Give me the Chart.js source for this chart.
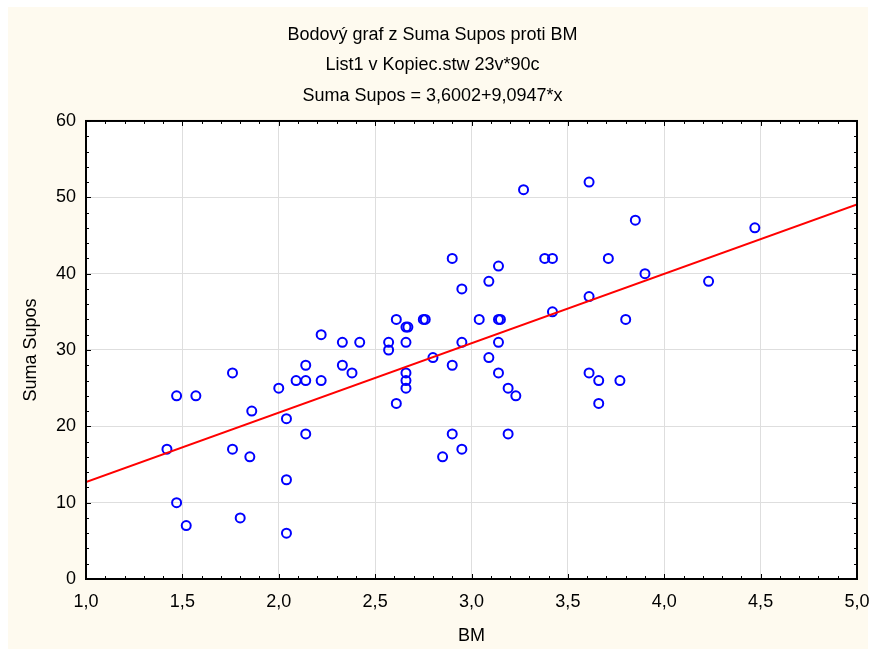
<!DOCTYPE html>
<html>
<head>
<meta charset="utf-8">
<title>Bodový graf z Suma Supos proti BM</title>
<script src="https://cdn.jsdelivr.net/npm/chart.js@4"></script>
<style>
  html, body { margin: 0; padding: 0; background: #ffffff; }
  canvas { display: block; }
</style>
</head>
<body>
<canvas id="graf" width="873" height="649"></canvas>
<script>
const bm = [
    1.42, 1.47, 1.47, 1.52, 1.57, 1.76, 1.76, 1.80, 1.86, 1.85,
    2.00, 2.04, 2.04, 2.04, 2.09, 2.14, 2.14, 2.14, 2.22, 2.22,
    2.33, 2.33, 2.38, 2.42, 3.27, 3.61, 3.85, 2.90, 3.38, 3.42,
    3.71, 3.14, 3.09, 2.95, 3.90, 3.61, 3.42, 2.61, 2.66, 2.67,
    2.75, 2.76, 3.04, 3.14, 3.15, 3.80, 2.57, 2.66, 2.95, 3.14,
    2.57, 4.47, 4.23, 2.80, 2.90, 3.09, 2.66, 2.66, 2.66, 2.61,
    3.14, 3.19, 3.23, 3.61, 3.66, 3.77, 3.66, 2.90, 3.19, 2.95,
    2.85,
];
const sumaSupos = [
    17, 24, 10, 7, 24, 27, 17, 8, 22, 16,
    25, 21, 13, 6, 26, 26, 28, 19, 32, 26,
    31, 28, 27, 31, 51, 52, 47, 42, 42, 42,
    42, 41, 39, 38, 40, 37, 35, 34, 33, 33,
    34, 34, 34, 34, 34, 34, 31, 31, 31, 31,
    30, 46, 39, 29, 28, 29, 27, 26, 25, 23,
    27, 25, 24, 27, 26, 26, 23, 19, 19, 17,
    16,
];

// regresní přímka: Suma Supos = 3,6002 + 9,0947 * x
const absolutniClen = 3.6002;
const smernice = 9.0947;
const rozsahX = [1, 5];

const nadpis = [
    'Bodový graf z Suma Supos proti BM',
    'List1 v Kopiec.stw 23v*90c',
    'Suma Supos = 3,6002+9,0947*x',
];

const pismo = { family: '"Liberation Sans", Arial, sans-serif', size: 18 };

const cara = rozsahX.map((x) => ({ x, y: absolutniClen + smernice * x }));

// pozadí, rámeček a krátké značky dovnitř grafu
const ramecek = {
    id: 'ramecek',
    beforeDraw(chart) {
        const { ctx, chartArea: a } = chart;
        ctx.save();
        ctx.fillStyle = '#fefaef';
        ctx.fillRect(8, 7, chart.width - 13, chart.height - 7);
        ctx.fillStyle = '#ffffff';
        ctx.fillRect(a.left, a.top, a.right - a.left, a.bottom - a.top);
        ctx.restore();
    },
    afterDraw(chart) {
        const { ctx, chartArea: a, scales } = chart;
        ctx.save();
        ctx.strokeStyle = '#000000';
        ctx.lineWidth = 1;
        ctx.beginPath();
        for (let i = 10; i <= 50; i++) {
            const px = Math.round(scales.x.getPixelForValue(i / 10)) + 0.5;
            const d = i % 5 === 0 ? 5 : 3;
            ctx.moveTo(px, a.bottom); ctx.lineTo(px, a.bottom - d);
            ctx.moveTo(px, a.top); ctx.lineTo(px, a.top + d);
        }
        for (let v = 0; v <= 60; v += 2) {
            const py = Math.round(scales.y.getPixelForValue(v)) + 0.5;
            const d = v % 10 === 0 ? 5 : 3;
            ctx.moveTo(a.left, py); ctx.lineTo(a.left + d, py);
            ctx.moveTo(a.right, py); ctx.lineTo(a.right - d, py);
        }
        ctx.stroke();
        ctx.lineWidth = 2;
        ctx.strokeRect(a.left, a.top, a.right - a.left, a.bottom - a.top);
        ctx.restore();
    },
};

new Chart(document.getElementById('graf'), {
    type: 'scatter',
    data: {
        datasets: [
            {
                label: 'Suma Supos',
                data: bm.map((x, i) => ({ x, y: sumaSupos[i] })),
                pointStyle: 'circle',
                pointRadius: 4.5,
                pointBorderWidth: 2,
                pointBorderColor: '#0000ff',
                pointBackgroundColor: 'rgba(0,0,0,0)',
                order: 2,
            },
            {
                type: 'line',
                label: 'regrese',
                data: cara,
                borderColor: '#ff0000',
                borderWidth: 2,
                pointRadius: 0,
                fill: false,
                order: 1,
            },
        ],
    },
    options: {
        responsive: false,
        animation: false,
        events: [],
        layout: { padding: { top: 8, left: 8, right: 16, bottom: 0 } },
        plugins: {
            legend: { display: false },
            tooltip: { enabled: false },
            title: {
                display: true,
                text: nadpis,
                color: '#000000',
                font: { ...pismo, weight: 'normal', lineHeight: 1.694 },
                padding: { top: 11.75, bottom: 9.75 },
            },
        },
        scales: {
            x: {
                type: 'linear',
                min: 1,
                max: 5,
                afterFit: (s) => {
                    s.height = 70;
                    s.paddingLeft = 0;
                    s.paddingRight = 0;
                },
                ticks: {
                    stepSize: 0.5,
                    color: '#000000',
                    font: pismo,
                    padding: 12,
                    maxRotation: 0,
                    callback: (v) => v.toFixed(1).replace('.', ','),
                },
                grid: { color: '#dedede', lineWidth: 1, drawTicks: false },
                border: { display: false },
                title: {
                    display: true,
                    text: 'BM',
                    color: '#000000',
                    font: pismo,
                    padding: { top: 0, bottom: 2 },
                },
            },
            y: {
                type: 'linear',
                min: 0,
                max: 60,
                afterFit: (s) => {
                    s.width = 78;
                    s.paddingTop = 0;
                    s.paddingBottom = 0;
                },
                ticks: {
                    stepSize: 10,
                    color: '#000000',
                    font: pismo,
                    padding: 10,
                },
                grid: { color: '#dedede', lineWidth: 1, drawTicks: false },
                border: { display: false },
                title: {
                    display: true,
                    text: 'Suma Supos',
                    color: '#000000',
                    font: pismo,
                    padding: { top: 12, bottom: 0 },
                },
            },
        },
    },
    plugins: [ramecek],
});
</script>
</body>
</html>
